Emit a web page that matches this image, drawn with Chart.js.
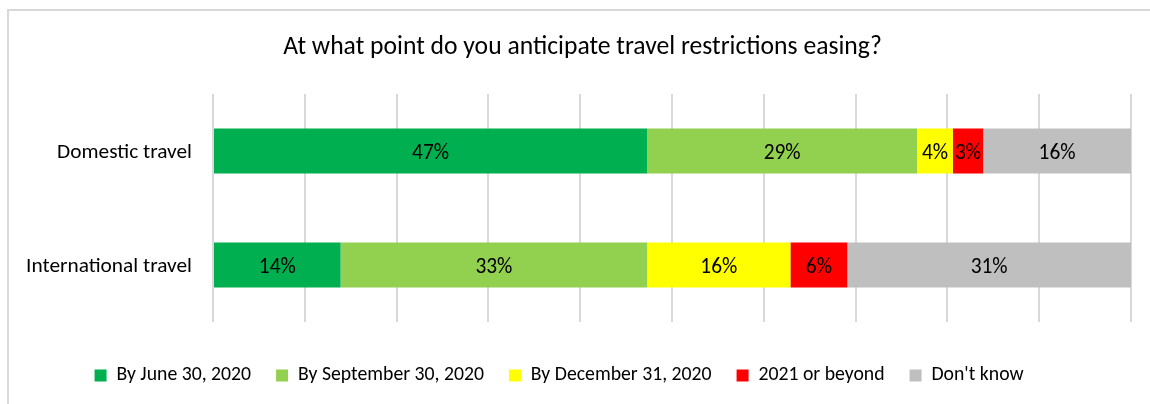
<!DOCTYPE html>
<html>
<head>
<meta charset="utf-8">
<script src="https://cdn.jsdelivr.net/npm/chart.js@4"></script>
<style>
  html, body { margin: 0; padding: 0; background: #ffffff; overflow: hidden; width: 1150px; height: 404px; }
  #wrap { position: relative; width: 1150px; height: 404px; overflow: hidden; }
  #frame { position: absolute; left: 7px; top: 9px; width: 1200px; height: 500px; border: 2px solid #D9D9D9; box-sizing: border-box; }
  #c { position: absolute; left: 0; top: 0; }
</style>
</head>
<body>
<div id="wrap">
  <div id="frame"></div>
  <canvas id="c" width="1155" height="404"></canvas>
</div>
<script>
// ---------------- data ----------------
const titleText = 'At what point do you anticipate travel restrictions easing?';
const categories = ['Domestic travel', 'International travel'];
const seriesNames = ['By June 30, 2020', 'By September 30, 2020', 'By December 31, 2020', '2021 or beyond', "Don't know"];
const byJune2020 = [47.3, 13.9];
const bySeptember2020 = [29.4, 33.4];
const byDecember2020 = [3.9, 15.6];
const in2021OrBeyond = [3.3, 6.2];
const dontKnow = [16.1, 30.9];
const seriesValues = [byJune2020, bySeptember2020, byDecember2020, in2021OrBeyond, dontKnow];
const xMin = 0, xMax = 100, xStep = 10;

// ---------------- styles ----------------
const seriesColors = ['#00B050', '#92D050', '#FFFF00', '#FF0000', '#BFBFBF'];
const FAMILY = "Carlito, Lato, 'Open Sans', sans-serif";
const TEXT = '#000000';

// size fonts so that text widths match the reference
const mctx = document.createElement('canvas').getContext('2d');
function fitSize(texts, target) {
  mctx.font = '100px ' + FAMILY;
  let w = 0;
  texts.forEach(t => { w += mctx.measureText(t).width; });
  return 100 * target / w;
}
const titleSize = fitSize([titleText], 599);
const catSize = fitSize(categories, 301);
const legendSize = fitSize(seriesNames, 720);
const labelSize = fitSize(['47%'], 37);

Chart.defaults.font.family = FAMILY;
Chart.defaults.color = TEXT;

// layout numbers
const chartTop = 94, chartBottom = 322, titleMid = 47.5, legendMid = 375.5;
const legendPad = 25;
const titleLH = 1.2 * titleSize;
const titlePadTop = titleMid - titleLH / 2;
const titlePadBottom = chartTop - titleMid - titleLH / 2;
const xTickLen = legendMid - chartBottom - legendPad - legendSize / 2;
const legendH = legendSize + legendPad + 10;
const bottomPad = Math.max(0, 404 - chartBottom - xTickLen - legendH);

const valueLabels = {
  id: 'valueLabels',
  afterDatasetsDraw(chart) {
    const ctx = chart.ctx;
    ctx.save();
    ctx.font = labelSize + 'px ' + FAMILY;
    ctx.fillStyle = TEXT;
    ctx.textAlign = 'center';
    ctx.textBaseline = 'middle';
    chart.data.datasets.forEach((ds, i) => {
      const meta = chart.getDatasetMeta(i);
      if (meta.hidden) return;
      meta.data.forEach((bar, j) => {
        const p = bar.getProps(['x', 'y', 'base'], true);
        ctx.fillText(Math.round(ds.data[j]) + '%', (p.x + p.base) / 2, p.y + 2.5);
      });
    });
    ctx.restore();
  }
};

new Chart(document.getElementById('c'), {
  type: 'bar',
  data: {
    labels: categories,
    datasets: seriesNames.map((name, i) => ({
      label: name,
      data: seriesValues[i],
      backgroundColor: seriesColors[i],
      borderWidth: 0,
      barPercentage: 0.395,
      categoryPercentage: 1
    }))
  },
  options: {
    indexAxis: 'y',
    responsive: false,
    animation: false,
    devicePixelRatio: 1,
    layout: { padding: { left: 10, right: 0, top: 0, bottom: bottomPad } },
    scales: {
      x: {
        stacked: true,
        min: xMin, max: xMax,
        ticks: { display: false, stepSize: xStep },
        grid: { color: '#D9D9D9', lineWidth: 2, drawTicks: true, tickLength: xTickLen, tickColor: 'rgba(0,0,0,0)' },
        border: { display: false }
      },
      y: {
        stacked: true,
        grid: { display: false, drawTicks: false },
        border: { display: false },
        ticks: { padding: 21, labelOffset: 1.5, color: TEXT, font: { family: FAMILY, size: catSize } },
        afterFit(scale) { scale.width = 203; }
      },
      yRight: {
        type: 'category',
        position: 'right',
        grid: { display: false, drawTicks: false },
        border: { display: false },
        ticks: { display: false },
        afterFit(scale) { scale.width = 24; }
      }
    },
    plugins: {
      title: {
        display: true,
        text: titleText,
        color: TEXT,
        font: { family: FAMILY, size: titleSize, weight: 'normal', lineHeight: 1.2 },
        padding: { top: titlePadTop, bottom: titlePadBottom }
      },
      legend: {
        position: 'bottom',
        onClick: () => {},
        labels: {
          color: TEXT,
          font: { family: FAMILY, size: legendSize },
          boxWidth: 12,
          boxHeight: 12,
          padding: legendPad,
          generateLabels(chart) {
            const items = Chart.defaults.plugins.legend.labels.generateLabels(chart);
            // empty trailing spacer so the visible entries sit left of centre, as in the reference
            items.push({ text: '', fillStyle: 'rgba(0,0,0,0)', strokeStyle: 'rgba(0,0,0,0)', lineWidth: 0, hidden: false });
            return items;
          }
        }
      },
      tooltip: { enabled: false }
    }
  },
  plugins: [valueLabels]
});
</script>
</body>
</html>
